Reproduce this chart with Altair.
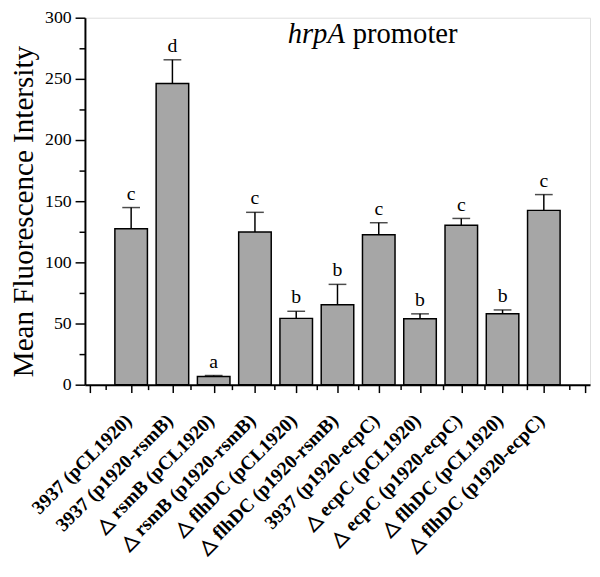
import json
import altair as alt
import pandas as pd

# ---- data ----
CATEGORIES = [
    "3937 (pCL1920)",
    "3937 (p1920-rsmB)",
    "△ rsmB (pCL1920)",
    "△ rsmB (p1920-rsmB)",
    "△ flhDC (pCL1920)",
    "△ flhDC (p1920-rsmB)",
    "3937 (p1920-ecpC)",
    "△ ecpC (pCL1920)",
    "△ ecpC (p1920-ecpC)",
    "△ flhDC (pCL1920)",
    "△ flhDC (p1920-ecpC)",
]
POSITIONS = [1, 2, 3, 4, 5, 6, 7, 8, 9, 10, 11]
MEANS = [127.4, 246.3, 6.7, 124.8, 54.2, 65.3, 122.6, 53.9, 130.3, 57.9, 142.5]
ERR_TOP = [144.8, 265.6, 7.5, 140.9, 60.0, 82.0, 132.4, 57.9, 135.9, 61.1, 155.4]
LETTERS = ["c", "d", "a", "c", "b", "b", "c", "b", "c", "b", "c"]

X_MAJOR = [0, 1, 2, 3, 4, 5, 6, 7, 8, 9, 10, 11, 12]
X_MINOR = [0.5, 1.5, 2.5, 3.5, 4.5, 5.5, 6.5, 7.5, 8.5, 9.5, 10.5, 11.5]
Y_MAJOR = [0, 50, 100, 150, 200, 250, 300]
Y_MINOR = [25, 75, 125, 175, 225, 275]

ANNOT_X = [6.25]
ANNOT_Y = [279]
ANNOT_ITALIC = ["hrpA"]
ANNOT_PLAIN = ["promoter"]

FONT = "Liberation Serif"

df = pd.DataFrame({
    "pos": POSITIONS,
    "mean": MEANS,
    "top": ERR_TOP,
    "letter": LETTERS,
})
ann = pd.DataFrame({"x": ANNOT_X, "y": ANNOT_Y, "it": ANNOT_ITALIC, "pl": ANNOT_PLAIN})

label_arr = [""] + CATEGORIES + [""]
label_expr = json.dumps(label_arr, ensure_ascii=False) + "[round(datum.value)] || ''"

xs = alt.Scale(domain=[0, 12], nice=False, zero=False)
ys = alt.Scale(domain=[0, 300], nice=False)

x_axis = alt.Axis(
    values=X_MAJOR, labelExpr=label_expr, title=None, grid=False,
    tickSize=8, tickWidth=1.5, tickColor="black",
    domainColor="black", domainWidth=2,
    labelAngle=-45, labelAlign="right", labelBaseline="middle",
    labelFont=FONT, labelFontSize=19.5, labelFontWeight="bold", labelColor="black",
    labelPadding=25, labelOffset=-3, labelLimit=0,
    labelOverlap=False, labelFlush=False, labelBound=False,
)
y_axis = alt.Axis(
    values=Y_MAJOR, title="Mean Fluorescence Intersity", grid=False,
    tickSize=10, tickWidth=1.5, tickColor="black",
    domainColor="black", domainWidth=2,
    labelFont=FONT, labelFontSize=18, labelColor="black", labelPadding=4,
    labelOverlap=False, labelFlush=False, labelBound=False,
    titleFont=FONT, titleFontSize=29.5, titleFontWeight="normal", titleColor="black",
    titleX=-47, titleY=196, titleAngle=-90, titleBaseline="bottom", titleAlign="center",
)

base = alt.Chart(df)

bars = base.mark_bar(size=33, color="#a6a6a6", stroke="black", strokeWidth=1.5).encode(
    x=alt.X("pos:Q", scale=xs, axis=x_axis),
    y=alt.Y("mean:Q", scale=ys, axis=y_axis),
)
err = base.mark_rule(color="black", strokeWidth=1.5).encode(
    x="pos:Q", y="mean:Q", y2="top:Q"
)
caps = base.mark_tick(color="black", thickness=1.5, size=18, orient="horizontal").encode(
    x="pos:Q", y="top:Q"
)
letters = base.mark_text(font=FONT, fontSize=20, baseline="bottom", dy=-4, color="black").encode(
    x="pos:Q", y="top:Q", text="letter:N"
)
a1 = alt.Chart(ann).mark_text(font=FONT, fontSize=29, fontStyle="italic", align="right",
                              baseline="alphabetic", dx=-3, color="black").encode(
    x="x:Q", y="y:Q", text="it:N")
a2 = alt.Chart(ann).mark_text(font=FONT, fontSize=29, align="left",
                              baseline="alphabetic", dx=5, color="black").encode(
    x="x:Q", y="y:Q", text="pl:N")

main = alt.layer(bars, err, caps, letters, a1, a2)

minor = base.mark_point(opacity=0).encode(
    x=alt.X("pos:Q", scale=alt.Scale(domain=[0, 12], nice=False, zero=False),
            axis=alt.Axis(values=X_MINOR, labels=False, domain=False, grid=False, title=None,
                          tickSize=5, tickWidth=1.5, tickColor="black", orient="bottom")),
    y=alt.Y("mean:Q", scale=alt.Scale(domain=[0, 300], nice=False),
            axis=alt.Axis(values=Y_MINOR, labels=False, domain=False, grid=False, title=None,
                          tickSize=6, tickWidth=1.5, tickColor="black", orient="left")),
)

chart = alt.layer(main, minor).resolve_scale(x="independent", y="independent").properties(
    width=512, height=372,
    autosize=alt.AutoSizeParams(type="none"),
    padding={"left": 78, "top": 6, "right": 2, "bottom": 183},
).configure_view(stroke=None).configure(background="white")

chart.save("out.html", embed_options={"renderer": "svg", "actions": False})
